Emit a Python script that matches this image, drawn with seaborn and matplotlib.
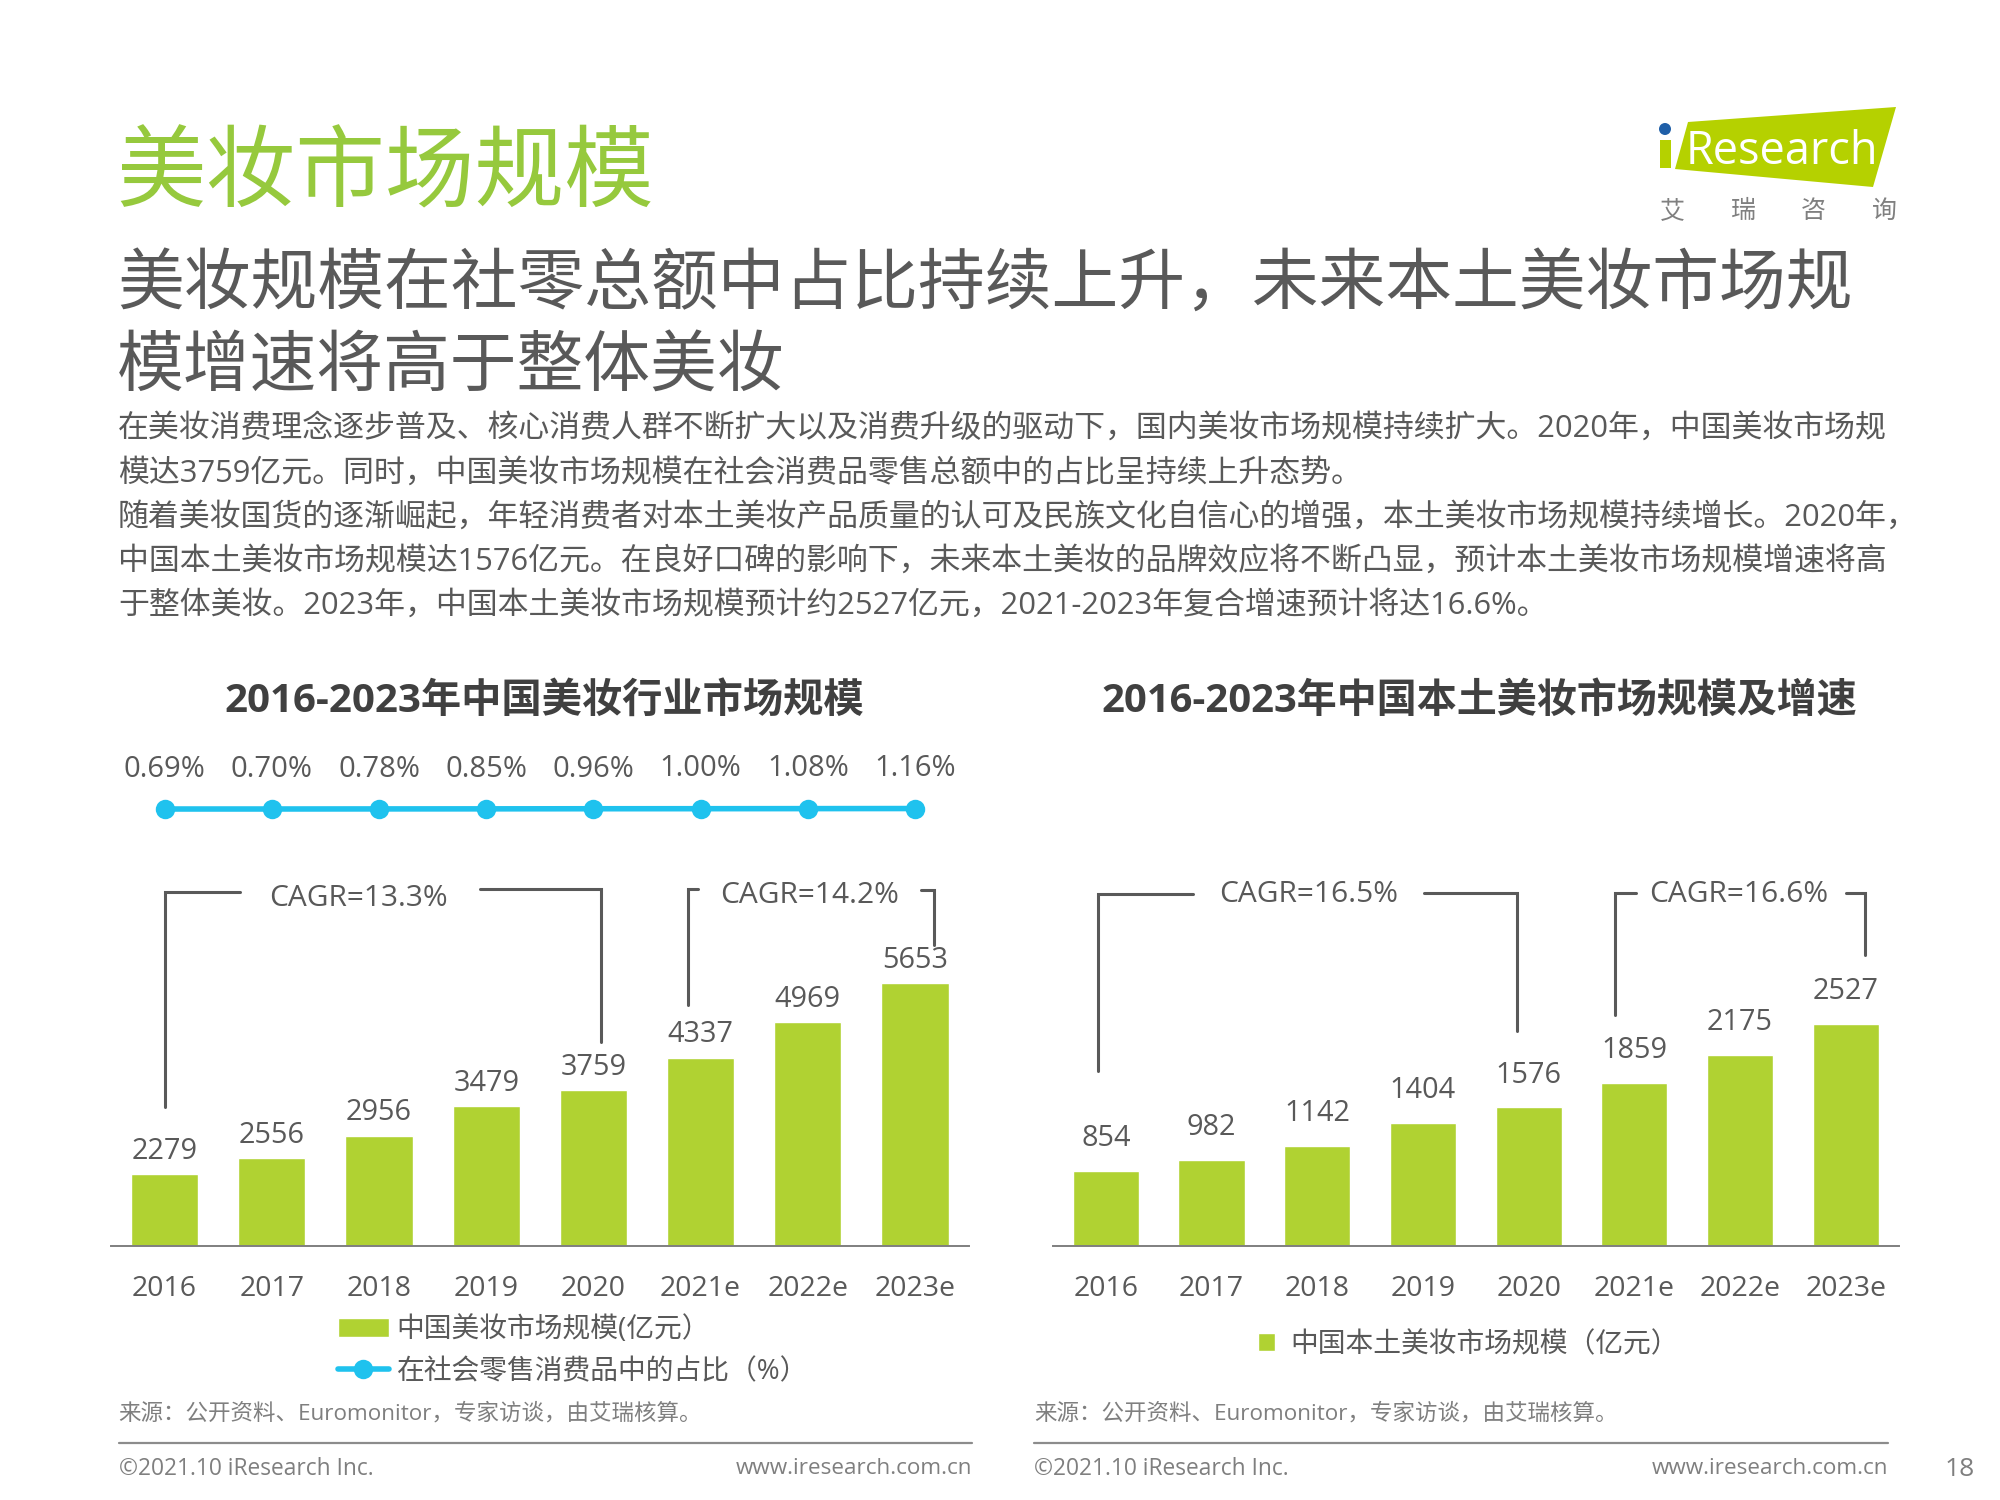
import matplotlib
matplotlib.use('Agg')

import matplotlib.pyplot as plt
from matplotlib.patches import Polygon, Circle, Rectangle
import seaborn as sns
import pandas as pd

years = ['2016', '2017', '2018', '2019', '2020', '2021e', '2022e', '2023e']
market_size = [2279, 2556, 2956, 3479, 3759, 4337, 4969, 5653]
retail_share = [0.69, 0.70, 0.78, 0.85, 0.96, 1.00, 1.08, 1.16]
local_size = [854, 982, 1142, 1404, 1576, 1859, 2175, 2527]

title = '美妆市场规模'
subtitle = ['美妆规模在社零总额中占比持续上升，未来本土美妆市场规', '模增速将高于整体美妆']
body = [
    '在美妆消费理念逐步普及、核心消费人群不断扩大以及消费升级的驱动下，国内美妆市场规模持续扩大。2020年，中国美妆市场规',
    '模达3759亿元。同时，中国美妆市场规模在社会消费品零售总额中的占比呈持续上升态势。',
    '随着美妆国货的逐渐崛起，年轻消费者对本土美妆产品质量的认可及民族文化自信心的增强，本土美妆市场规模持续增长。2020年，',
    '中国本土美妆市场规模达1576亿元。在良好口碑的影响下，未来本土美妆的品牌效应将不断凸显，预计本土美妆市场规模增速将高',
    '于整体美妆。2023年，中国本土美妆市场规模预计约2527亿元，2021-2023年复合增速预计将达16.6%。',
]
source = '来源：公开资料、Euromonitor，专家访谈，由艾瑞核算。'

GREEN = '#B0D232'
BLUE = '#1FC2EE'
GREY = '#595959'

sns.set_theme(style='white')
plt.rcParams['font.family'] = ['Open Sans', 'Noto Sans CJK SC', 'DejaVu Sans']


def place(fig, left, right, top, bottom):
    # axes box given in pixels of the 2000x1500 page
    return fig.add_axes([left / 2000, (1500 - bottom) / 1500, (right - left) / 2000, (bottom - top) / 1500])


def bars(ax, values, ylim, pad):
    df = pd.DataFrame({'year': years, 'value': values})
    sns.barplot(data=df, x='year', y='value', color=GREEN, saturation=1, width=0.627, ax=ax)
    ax.bar_label(ax.containers[0], fontsize=20.8, color=GREY, padding=pad)
    ax.set_xlim(-0.5, 7.5)
    ax.set_ylim(*ylim)
    ax.set_xlabel('')
    ax.set_ylabel('')
    ax.set_yticks([])
    ax.tick_params(axis='x', length=0, pad=20.8, labelsize=20.5, labelcolor=GREY)
    sns.despine(ax=ax, left=True)
    ax.spines['bottom'].set_color('#7f7f7f')
    ax.spines['bottom'].set_linewidth(1.4)
    ax.patch.set_alpha(0)


def bracket(page, pts):
    page.plot([p[0] for p in pts], [p[1] for p in pts], color=GREY, lw=2.2, solid_joinstyle='miter')


fig = plt.figure(figsize=(20, 15), dpi=100)

# page layer in pixel coordinates
page = fig.add_axes([0, 0, 1, 1])
page.set_xlim(0, 2000)
page.set_ylim(1500, 0)
page.axis('off')

page.text(116, 177, title, fontsize=64.5, color='#96C93D', va='center')
for y, line in zip([286, 368], subtitle):
    page.text(117, y, line, fontsize=48.1, color=GREY, va='center')
for y, line in zip([429, 474, 518, 562, 606], body):
    page.text(118, y, line, fontsize=22.28, color=GREY, va='center')

page.text(544, 701, '2016-2023年中国美妆行业市场规模', fontsize=29, fontweight='bold', color='#404040', ha='center', va='center')
page.text(1479, 701, '2016-2023年中国本土美妆市场规模及增速', fontsize=28.8, fontweight='bold', color='#404040', ha='center', va='center')

# CAGR brackets
bracket(page, [(164.5, 1107), (164.5, 891.6), (240, 891.6)])
bracket(page, [(479.6, 889), (600.8, 889), (600.8, 1042)])
bracket(page, [(687.5, 1005), (687.5, 889), (698, 889)])
bracket(page, [(921, 890), (933.7, 890), (933.7, 945)])
bracket(page, [(1098, 1071), (1098, 894), (1192.6, 894)])
bracket(page, [(1423.5, 893), (1516.6, 893), (1516.6, 1031)])
bracket(page, [(1615, 1015), (1615, 893), (1636, 893)])
bracket(page, [(1845.6, 893), (1864.8, 893), (1864.8, 955)])
page.text(358.4, 898, 'CAGR=13.3%', fontsize=21.5, color=GREY, ha='center', va='center')
page.text(810, 895.4, 'CAGR=14.2%', fontsize=21.5, color=GREY, ha='center', va='center')
page.text(1308.7, 894, 'CAGR=16.5%', fontsize=21.5, color=GREY, ha='center', va='center')
page.text(1738.5, 894, 'CAGR=16.6%', fontsize=21.5, color=GREY, ha='center', va='center')

# source and footer
for x0, x1 in [(118.6, 972), (1034, 1888)]:
    page.text(x0, 1414, source, fontsize=16.2, color='#7f7f7f', va='center')
    page.plot([x0, x1], [1442.6, 1442.6], color='#8c8c8c', lw=1.6)
    page.text(x0, 1469, '©2021.10 iResearch Inc.', fontsize=16.4, color='#7f7f7f', va='center')
    page.text(x1, 1469, 'www.iresearch.com.cn', fontsize=16.2, color='#7f7f7f', ha='right', va='center')
page.text(1975, 1469, '18', fontsize=19, color='#7f7f7f', ha='right', va='center')

# logo
page.add_patch(Polygon([(1688, 122), (1896, 107), (1873, 187), (1675, 169)], color='#B5D100', lw=0))
page.add_patch(Rectangle((1660, 140), 11, 28, color='#B5D100', lw=0))
page.add_patch(Circle((1665, 129), 6, color='#1F5FA8', lw=0))
page.text(1686, 152, 'Research', fontsize=32.5, color='white', va='center')
for x, ch in zip([1672, 1743, 1813, 1884], '艾瑞咨询'):
    page.text(x, 211.5, ch, fontsize=18, color='#808080', ha='center', va='center')

# left chart
ax_left = place(fig, 111, 968.6, 945, 1246)
bars(ax_left, market_size, (1005, 6328), 6)

# share line sits above the bars, nearly flat on a wide scale
ax_line = place(fig, 111, 968.6, 709.7, 909.7)
share_df = pd.DataFrame({'year': years, 'share': retail_share})
sns.lineplot(data=share_df, x='year', y='share', color=BLUE, lw=4, marker='o', markersize=14,
             markeredgewidth=0, ax=ax_line)
ax_line.set_xlim(-0.5, 7.5)
ax_line.set_ylim(-100, 100)
ax_line.axis('off')
for i, v in enumerate(retail_share):
    ax_line.annotate(f'{v:.2f}%', (i, v), xytext=(0, 28.6), textcoords='offset points', fontsize=21,
                     color=GREY, ha='center', va='center')

handles = ax_left.containers[:1] + ax_line.get_lines()[:1]
labels = ['中国美妆市场规模(亿元）', '在社会零售消费品中的占比（%）']
fig.legend(handles, labels, loc='upper left', bbox_to_anchor=(338 / 2000, 1 - 1316 / 1500), frameon=False, fontsize=20,
           labelcolor=GREY, handlelength=1.83, handletextpad=0.275, labelspacing=0.5, borderaxespad=0, borderpad=0)

# right chart
ax_right = place(fig, 1053, 1898.6, 945, 1246)
bars(ax_right, local_size, (0, 3424), 12.6)
fig.legend(ax_right.containers[:1], ['中国本土美妆市场规模（亿元）'], loc='upper left', bbox_to_anchor=(1257.6 / 2000, 1 - 1331 / 1500),
           frameon=False, fontsize=20, labelcolor=GREY, handlelength=0.64, handleheight=0.64, handletextpad=0.55,
           borderaxespad=0, borderpad=0)

fig.savefig('out.png', dpi=100)
